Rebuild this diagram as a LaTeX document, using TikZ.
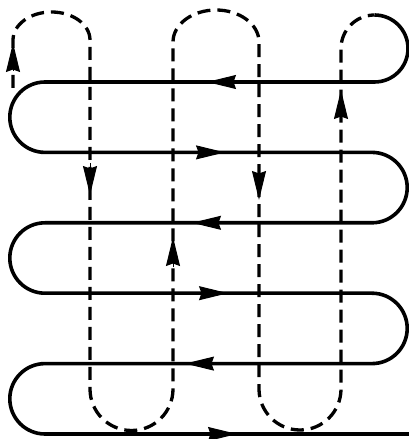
\documentclass[tikz,border=0pt]{standalone}
\usetikzlibrary{arrows.meta}
\begin{document}
\begin{tikzpicture}[
                x=1pt,y=1pt,
                solidrun/.style={line width=3.6pt,line join=round},
                dashrun/.style={line width=3.3pt,dash pattern=on 13pt off 7pt},
                flow/.style={line width=1pt,-{Stealth[length=29pt,width=14pt,inset=2.5pt]}}
            ]
            \useasboundingbox (0,0) rectangle (409,439);

            \draw[solidrun] (374.5,424) arc[start angle=90,end angle=-90,radius=33.5]
            -- (45,357) arc[start angle=90,end angle=270,radius=35.2]
            -- (372,286.6) arc[start angle=90,end angle=-90,radius=35.2]
            -- (45,216.2) arc[start angle=90,end angle=270,radius=35.2]
            -- (372,145.8) arc[start angle=90,end angle=-90,radius=35.2]
            -- (45,75.4) arc[start angle=90,end angle=270,radius=35.2]
            -- (409,5);

            \draw[dashrun] (13,351) -- (13,399)
            arc[start angle=180,end angle=0,x radius=38.5,y radius=28]
            -- (90,50) arc[start angle=180,end angle=360,radius=41.5]
            -- (173,397) arc[start angle=180,end angle=0,x radius=43,y radius=32]
            -- (259,50) arc[start angle=180,end angle=360,radius=41]
            -- (341,390.5) arc[start angle=180,end angle=90,radius=33.5];

            \draw[flow] (13,368) -- (13,396);
            \draw[flow] (90,276) -- (90,244);
            \draw[flow] (173,172) -- (173,202);
            \draw[flow] (259,268) -- (259,239);
            \draw[flow] (341,318) -- (341,349);

            \draw[flow] (237,357) -- (207,357);
            \draw[flow] (197,286.6) -- (225,286.6);
            \draw[flow] (222,216.2) -- (192,216.2);
            \draw[flow] (200,145.8) -- (228,145.8);
            \draw[flow] (219,75.4) -- (185,75.4);
            \draw[flow] (207,5) -- (237,5);

        \end{tikzpicture}
\end{document}
